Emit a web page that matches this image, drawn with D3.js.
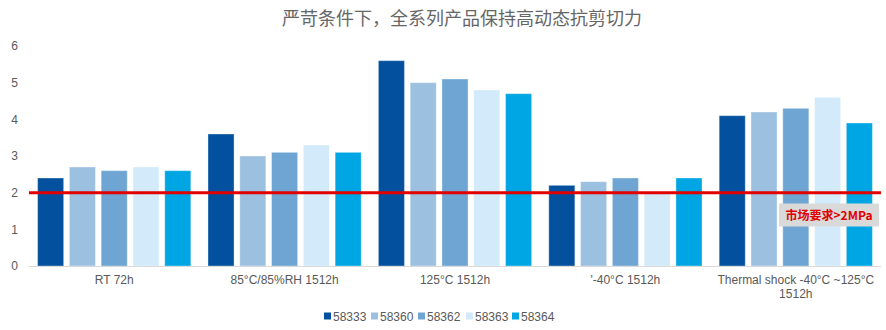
<!DOCTYPE html>
<html>
<head>
<meta charset="utf-8">
<script src="https://cdn.jsdelivr.net/npm/d3@7"></script>
<style>
  html, body { margin: 0; padding: 0; background: #fff; }
  svg { display: block; font-family: "Liberation Sans", Arial, sans-serif; }
</style>
</head>
<body>
<svg id="chart" width="886" height="330"></svg>
<script>
// Test conditions (x categories)
const categories = ["RT 72h", "85°C/85%RH 1512h", "125°C 1512h", "'-40°C 1512h", "Thermal shock -40°C ~125°C|1512h"];
// Products (series)
const seriesNames = ["58333", "58360", "58362", "58363", "58364"];
// Dynamic shear strength per product, one value per condition (MPa)
const s58333 = [2.4, 3.6, 5.6, 2.2, 4.1];
const s58360 = [2.7, 3.0, 5.0, 2.3, 4.2];
const s58362 = [2.6, 3.1, 5.1, 2.4, 4.3];
const s58363 = [2.7, 3.3, 4.8, 2.0, 4.6];
const s58364 = [2.6, 3.1, 4.7, 2.4, 3.9];
const yTicks = [0, 1, 2, 3, 4, 5, 6];
const requirement = 2;
const requirementLabel = "市场要求>2MPa";
const chartTitle = "严苛条件下，全系列产品保持高动态抗剪切力";

(function () {
const seriesValues = [s58333, s58360, s58362, s58363, s58364];
const colors = ["#03519e", "#9cc0e0", "#6ea5d2", "#d2eaf9", "#00a6e3"];

const svg = d3.select("#chart");
const plotLeft = 29, plotRight = 881, plotTop = 46, plotBottom = 266;

const x0 = d3.scaleBand().domain(categories).range([plotLeft, plotRight]).padding(0);
const x1 = d3.scaleBand().domain(seriesNames).range([0, x0.bandwidth()])
  .paddingInner(0.18).paddingOuter(0.27);
const y = d3.scaleLinear().domain([0, 6]).range([plotBottom, plotTop]);
const color = d3.scaleOrdinal().domain(seriesNames).range(colors);

// Title
svg.append("text")
  .attr("x", 462).attr("y", 25)
  .attr("text-anchor", "middle")
  .attr("font-family", "'Noto Sans CJK SC', sans-serif")
  .attr("font-size", 18)
  .attr("fill", "#666666")
  .text(chartTitle);

// Y axis labels (no line, no tick marks)
const yAxis = d3.axisLeft(y).tickValues(yTicks).tickFormat(d3.format("d")).tickSize(0).tickPadding(0);
const yg = svg.append("g").attr("transform", `translate(18,0)`).call(yAxis);
yg.select(".domain").remove();
yg.selectAll("text").attr("fill", "#595959").attr("font-size", 12)
  .attr("font-family", "'Liberation Sans', Arial, sans-serif");

// Bars
const groups = svg.append("g").selectAll("g")
  .data(categories)
  .join("g")
  .attr("transform", d => `translate(${x0(d)},0)`);

groups.selectAll("rect")
  .data((d, i) => seriesNames.map((s, j) => ({ s, v: seriesValues[j][i] })))
  .join("rect")
  .attr("x", d => x1(d.s))
  .attr("y", d => y(d.v))
  .attr("width", x1.bandwidth())
  .attr("height", d => y(0) - y(d.v))
  .attr("fill", d => color(d.s))
  .attr("stroke", "#ffffff")
  .attr("stroke-opacity", 0.35)
  .attr("stroke-width", 1);

// X axis baseline and category labels
svg.append("line")
  .attr("x1", plotLeft).attr("x2", plotRight)
  .attr("y1", plotBottom + 0.5).attr("y2", plotBottom + 0.5)
  .attr("stroke", "#d9d9d9").attr("stroke-width", 1);

const xl = svg.append("g").selectAll("text")
  .data(categories)
  .join("text")
  .attr("x", d => x0(d) + x0.bandwidth() / 2)
  .attr("y", 284)
  .attr("text-anchor", "middle")
  .attr("font-size", 12)
  .attr("fill", "#595959");
xl.each(function(d) {
  const lines = d.split("|");
  const t = d3.select(this);
  lines.forEach((ln, k) => {
    t.append("tspan")
      .attr("x", x0(d) + x0.bandwidth() / 2)
      .attr("dy", k === 0 ? 0 : 14)
      .text(ln);
  });
});

// Requirement line
svg.append("line")
  .attr("x1", plotLeft).attr("x2", plotRight)
  .attr("y1", y(requirement)).attr("y2", y(requirement))
  .attr("stroke", "#e00000").attr("stroke-width", 3);

// Requirement label
const lblG = svg.append("g");
lblG.append("rect")
  .attr("x", 779).attr("y", 203.5)
  .attr("width", 100).attr("height", 23)
  .attr("fill", "#d9d9d9");
lblG.append("text")
  .attr("x", 829).attr("y", 219.5)
  .attr("text-anchor", "middle")
  .attr("font-family", "'Noto Sans CJK SC', 'Liberation Sans', sans-serif")
  .attr("font-weight", "bold")
  .attr("font-size", 12)
  .attr("fill", "#e00000")
  .text(requirementLabel);

// Legend
const legendX = [324, 371, 418, 466, 512];
const lg = svg.append("g").selectAll("g")
  .data(seriesNames)
  .join("g")
  .attr("transform", (d, i) => `translate(${legendX[i]},316)`);
lg.append("rect")
  .attr("x", 0).attr("y", -3.5)
  .attr("width", 7).attr("height", 7)
  .attr("fill", d => color(d));
lg.append("text")
  .attr("x", 9).attr("y", 4.5)
  .attr("font-size", 12)
  .attr("fill", "#595959")
  .text(d => d);
})();
</script>
</body>
</html>
